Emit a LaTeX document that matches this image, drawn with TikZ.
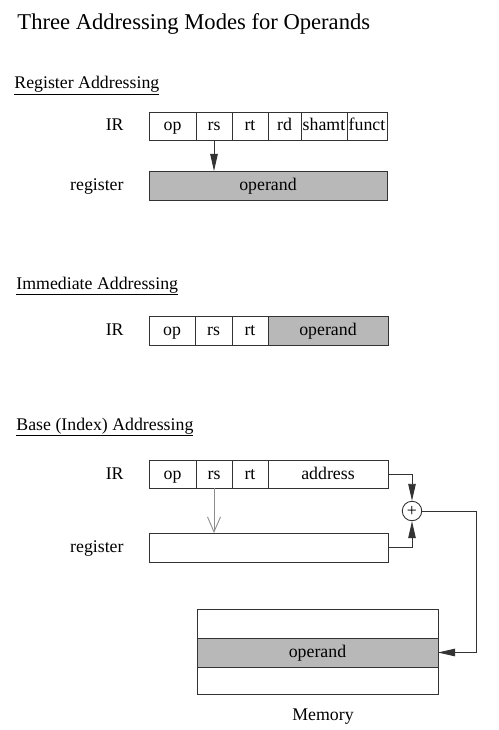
\documentclass[tikz,border=0pt]{standalone}
\usepackage{fontspec}
\setmainfont{Liberation Serif}
\usetikzlibrary{arrows.meta}

\begin{document}
\begin{tikzpicture}[x=1pt, y=-1pt, line width=0.9pt,
  every node/.style={font=\fontsize{17.8}{20}\selectfont},
  cell/.style={draw=black!80, minimum height=28pt, inner sep=0pt, outer sep=0pt, text height=13pt, text depth=3pt},
  shaded/.style={cell, fill=black!28},
  lbl/.style={anchor=east, inner sep=0pt, text height=13pt, text depth=3pt},
  head/.style={anchor=base west, inner sep=0pt},
  tip/.style={draw=black!80, -{Triangle[length=17pt,width=7.5pt]}},
  barb/.style={draw=black!45, -{Straight Barb[length=15pt,width=13pt]}}]
\useasboundingbox (0,0) rectangle (498,730);

\node[head, font=\fontsize{22.6}{26}\selectfont] (title) at (17,30) {Three Addressing Modes for Operands};

% register addressing
\node[head] (h1) at (14,89) {\underline{Register Addressing}};
\node[lbl] (ir1) at (124,126) {IR};
\node[cell, minimum width=47pt] (op1) at (172.5,126) {op};
\node[cell, minimum width=36pt] (rs1) at (214,126) {rs};
\node[cell, minimum width=36pt] (rt1) at (250,126) {rt};
\node[cell, minimum width=33pt] (rd1) at (284.5,126) {rd};
\node[cell, minimum width=46pt] (sh1) at (324,126) {shamt};
\node[cell, minimum width=40pt] (fn1) at (367,126) {funct};
\node[lbl] (rl1) at (124,185.5) {register};
\node[shaded, minimum width=238pt, minimum height=29pt] (reg1) at (268,185.5) {operand};
\draw[tip] (rs1.south) -- (rs1.south |- reg1.north);

% immediate addressing
\node[head] (h2) at (16,289) {\underline{Immediate Addressing}};
\node[lbl] (ir2) at (124,330.5) {IR};
\node[cell, minimum width=46pt, minimum height=29pt] (op2) at (172,330.5) {op};
\node[cell, minimum width=37pt, minimum height=29pt] (rs2) at (213.5,330.5) {rs};
\node[cell, minimum width=36pt, minimum height=29pt] (rt2) at (250,330.5) {rt};
\node[shaded, minimum width=120pt, minimum height=29pt] (imm2) at (328,330.5) {operand};

% base addressing
\node[head] (h3) at (16,430) {\underline{Base (Index) Addressing}};
\node[lbl] (ir3) at (124,474) {IR};
\node[cell, minimum width=47pt] (op3) at (172.5,474) {op};
\node[cell, minimum width=36pt] (rs3) at (214,474) {rs};
\node[cell, minimum width=36pt] (rt3) at (250,474) {rt};
\node[cell, minimum width=120pt] (addr3) at (328,474) {address};
\node[lbl] (rl3) at (124,547.5) {register};
\node[cell, minimum width=239pt, minimum height=29pt] (reg3) at (268.5,547.5) {};
\node[draw=black!80, circle, minimum size=19.5pt, inner sep=0pt] (add) at (412,511) {+};
\draw[barb] (rs3.south) -- (rs3.south |- reg3.north);
\draw[tip] (addr3.east) -| (add.north);
\draw[tip] (reg3.east) -| (add.south);

% memory
\node[cell, minimum width=241pt, minimum height=29pt] (memtop) at (317.5,623.5) {};
\node[shaded, minimum width=241pt, minimum height=29pt] (memop) at (317.5,652.5) {operand};
\node[cell, minimum width=241pt, minimum height=27pt] (membot) at (317.5,680.5) {};
\node[anchor=base, inner sep=0pt] (memlbl) at (323,720) {Memory};
\coordinate (turn) at (476,511);
\draw[tip] (add.east) -- (turn) |- (memop.east);

\end{tikzpicture}
\end{document}
